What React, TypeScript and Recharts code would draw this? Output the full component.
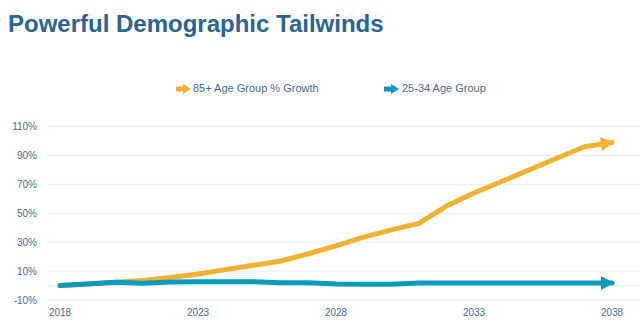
import React from "react";
import { LineChart, Line, XAxis, YAxis, CartesianGrid, ReferenceLine } from "recharts";

const years = [2018, 2019, 2020, 2021, 2022, 2023, 2024, 2025, 2026, 2027, 2028, 2029, 2030, 2031, 2032, 2033, 2034, 2035, 2036, 2037, 2038];
const growth85 = [0, 1, 2.2, 3.5, 5.5, 8, 11, 14, 17, 22, 27.5, 33.5, 38.5, 43, 55, 64, 72, 80, 88, 96, 99];
const group2534 = [0, 1, 2.2, 1.6, 2.4, 2.6, 2.6, 2.6, 2.0, 2.0, 1.0, 0.9, 0.9, 1.7, 1.8, 1.8, 1.8, 1.8, 1.8, 1.8, 1.8];
const xTicks = [2018, 2023, 2028, 2033, 2038];
const yTicks = [-10, 10, 30, 50, 70, 90, 110];
const titleText = "Powerful Demographic Tailwinds";
const series1Name = "85+ Age Group % Growth";
const series2Name = "25-34 Age Group";

const ORANGE = "#EFB130";
const BLUE = "#0A9ABA";
const TEXT = "#3F6C9B";
const GRID = "#E5EDF6";
const FONT = "'Liberation Sans', Arial, sans-serif";

const data = years.map((y, i) => ({ year: y, a: growth85[i], b: group2534[i] }));
const lastIndex = years.length - 1;

const makeArrow = (color: string) => (props: any) => {
  const { cx, cy, index, points } = props;
  if (index !== lastIndex || cx == null || cy == null) return <g key={`d-${index}`} />;
  let angle = 0;
  const prev = points && points[index - 1];
  if (prev && prev.x != null && prev.y != null) {
    angle = Math.atan2(cy - prev.y, cx - prev.x);
  }
  const ux = Math.cos(angle);
  const uy = Math.sin(angle);
  const px = -uy;
  const py = ux;
  const tipX = cx + ux * 2;
  const tipY = cy + uy * 2;
  const bx = tipX - ux * 13;
  const by = tipY - uy * 13;
  const hw = 7;
  const pts = `${tipX},${tipY} ${bx + px * hw},${by + py * hw} ${bx - px * hw},${by - py * hw}`;
  return <polygon key={`d-${index}`} points={pts} fill={color} />;
};

const LegendIcon = ({ x, y, color }: { x: number; y: number; color: string }) => (
  <g>
    <rect x={x} y={y - 2.5} width={9} height={5} fill={color} />
    <polygon points={`${x + 7},${y - 5} ${x + 15},${y} ${x + 7},${y + 5}`} fill={color} />
  </g>
);

export default function App() {
  return (
    <div style={{ position: "absolute", left: 0, top: 0, width: 640, height: 336, background: "#fff" }}>
      <LineChart width={640} height={336} data={data} margin={{ top: 126.5, right: 0, bottom: 0, left: 0 }}>
        <CartesianGrid horizontal={true} vertical={false} stroke={GRID} strokeWidth={1} />
        <ReferenceLine y={0} stroke={GRID} strokeWidth={1} />
        <XAxis
          dataKey="year"
          type="number"
          domain={[2018, 2038]}
          ticks={xTicks}
          height={36}
          padding={{ left: 12, right: 28 }}
          axisLine={false}
          tickLine={false}
          tickSize={0}
          tickMargin={9}
          tick={{ fill: TEXT, fontSize: 10, fontFamily: FONT }}
          interval={0}
        />
        <YAxis
          type="number"
          domain={[-10, 110]}
          ticks={yTicks}
          width={48}
          axisLine={false}
          tickLine={false}
          tickSize={0}
          tickMargin={11}
          tickFormatter={(v: number) => `${v}%`}
          tick={{ fill: TEXT, fontSize: 10, fontFamily: FONT }}
          interval={0}
        />
        <Line
          dataKey="a"
          name={series1Name}
          stroke={ORANGE}
          strokeWidth={5}
          strokeLinejoin="round"
          strokeLinecap="round"
          dot={makeArrow(ORANGE)}
          activeDot={false}
          isAnimationActive={false}
        />
        <Line
          dataKey="b"
          name={series2Name}
          stroke={BLUE}
          strokeWidth={5}
          strokeLinejoin="round"
          strokeLinecap="round"
          dot={makeArrow(BLUE)}
          activeDot={false}
          isAnimationActive={false}
        />
      </LineChart>
      <svg width={640} height={336} style={{ position: "absolute", left: 0, top: 0, pointerEvents: "none" }}>
        <text x={8} y={32} fill="#2A6395" fontSize={24} fontWeight="bold" fontFamily={FONT}>
          {titleText}
        </text>
        <LegendIcon x={176} y={89} color={ORANGE} />
        <text x={193} y={92} fill={TEXT} fontSize={11} fontFamily={FONT}>
          {series1Name}
        </text>
        <LegendIcon x={384} y={89} color={BLUE} />
        <text x={402} y={92} fill={TEXT} fontSize={11} fontFamily={FONT}>
          {series2Name}
        </text>
      </svg>
    </div>
  );
}
